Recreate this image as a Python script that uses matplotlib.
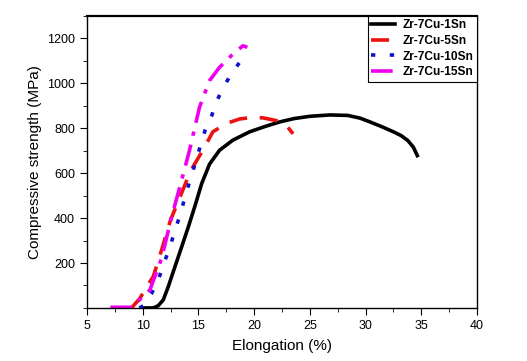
import matplotlib
matplotlib.use("Agg")
import matplotlib.pyplot as plt
from matplotlib.ticker import MultipleLocator

plt.rcParams['font.family'] = ['Liberation Sans', 'DejaVu Sans']

# Zr-7Cu-1Sn
x_1sn = [10.0, 10.95, 11.4, 11.85, 12.3, 12.9, 13.5, 14.1, 14.7, 15.3, 16.0, 16.9,
         18.1, 19.6, 21.0, 22.3, 23.6, 25.0, 26.8, 28.4, 29.5, 30.4, 31.5, 32.5,
         33.2, 33.8, 34.3, 34.65]
y_1sn = [0, 0, 10, 36, 95, 184, 272, 361, 455, 554, 640, 702,
         747, 784, 808, 828, 843, 853, 859, 857, 845, 828, 806, 784,
         767, 745, 715, 678]
# Zr-7Cu-5Sn
x_5sn = [9.0, 9.76, 10.3, 10.95, 11.7, 12.5, 13.4, 14.3, 15.4, 16.3, 17.5, 18.7,
         19.9, 20.8, 22.0, 22.9, 23.5]
y_5sn = [0, 43, 90, 139, 258, 391, 500, 610, 702, 784, 821, 841,
         849, 846, 834, 812, 775]
# Zr-7Cu-10Sn
x_10sn = [9.7, 10.05, 10.8, 11.4, 11.9, 12.45, 12.9, 13.35, 13.8, 14.2, 14.7, 15.1,
          15.6, 16.2, 16.6, 17.1, 17.8, 18.6, 19.4]
y_10sn = [0, 9, 64, 124, 197, 272, 345, 413, 493, 560, 641, 708,
          790, 856, 916, 967, 1030, 1086, 1138]
# Zr-7Cu-15Sn
x_15sn = [7.1, 9.1, 9.8, 10.65, 11.7, 12.6, 13.4, 14.2, 15.1, 16.0, 16.9, 18.1,
          19.0, 19.4]
y_15sn = [3, 3, 40, 80, 221, 406, 550, 701, 893, 1012, 1071, 1130,
          1167, 1160]

fig = plt.figure(figsize=(5.27, 3.61), dpi=100)
ax = fig.add_axes([0.165, 0.147, 0.74, 0.809])

ax.plot(x_1sn, y_1sn, color='black', lw=2.6, label='Zr-7Cu-1Sn')
ax.plot(x_5sn, y_5sn, color='#ee1111', lw=2.6, dashes=(5, 3.5), label='Zr-7Cu-5Sn')
ax.plot(x_10sn, y_10sn, color='#1010cc', lw=2.6, dashes=(1.2, 4), label='Zr-7Cu-10Sn')
ax.plot(x_15sn, y_15sn, color='#ee00ee', lw=2.6, dashes=(6, 2.5, 1.2, 2.5), label='Zr-7Cu-15Sn')

ax.set_xlim(5, 40)
ax.set_ylim(0, 1300)
ax.set_xticks(range(5, 41, 5))
ax.set_yticks(range(200, 1201, 200))
ax.xaxis.set_minor_locator(MultipleLocator(2.5))
ax.yaxis.set_minor_locator(MultipleLocator(100))
ax.tick_params(which='both', direction='out', labelsize=9, top=False, right=False)
ax.tick_params(which='major', length=5)
ax.tick_params(which='minor', length=3)
for s in ax.spines.values():
    s.set_linewidth(1.0)
ax.spines['top'].set_linewidth(1.6)

ax.set_xlabel('Elongation (%)', fontsize=11, labelpad=5)
ax.set_ylabel('Compressive strength (MPa)', fontsize=11, labelpad=4)

leg = ax.legend(loc='upper right', borderaxespad=0, fancybox=False, framealpha=1,
                edgecolor='black', prop={'weight': 'bold', 'size': 8.6},
                handlelength=2.0, labelspacing=0.3, borderpad=0.3, handletextpad=0.6)
leg.get_frame().set_linewidth(0.8)

fig.savefig('out.png', dpi=100)
